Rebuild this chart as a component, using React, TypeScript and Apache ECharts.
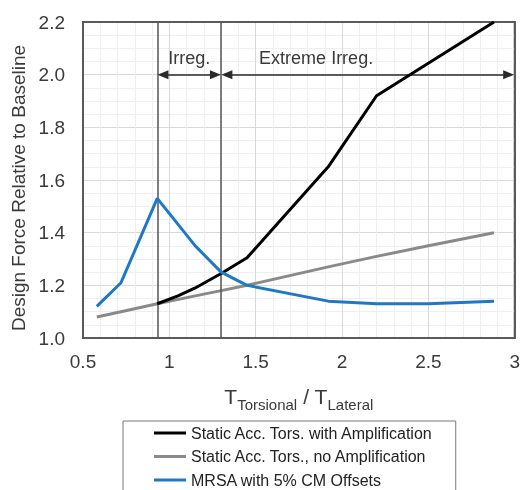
import React, { useEffect, useRef } from "react";
import * as echarts from "echarts";

const xTicks = { min: 0.5, max: 3, interval: 0.5 };
const yTicks = { min: 1.0, max: 2.2, interval: 0.2 };

const ampX = [0.93, 1.05, 1.15, 1.3, 1.45, 1.92, 2.2, 2.88];
const ampY = [1.13, 1.16, 1.19, 1.245, 1.305, 1.65, 1.92, 2.2];

const noAmpX = [0.58, 0.72, 0.93, 1.15, 1.3, 1.45, 1.92, 2.2, 2.5, 2.88];
const noAmpY = [1.08, 1.1, 1.13, 1.16, 1.18, 1.2, 1.27, 1.31, 1.35, 1.4];

const mrsaX = [0.58, 0.72, 0.93, 1.15, 1.3, 1.45, 1.92, 2.2, 2.5, 2.88];
const mrsaY = [1.12, 1.21, 1.53, 1.35, 1.25, 1.2, 1.14, 1.13, 1.13, 1.14];

const seriesNames = [
  "Static Acc. Tors. with Amplification",
  "Static Acc. Tors., no Amplification",
  "MRSA with 5% CM Offsets",
];

const limitX = [0.93, 1.3];
const arrowY = 2.0;
const irregSpan = [0.963, 1.267];
const extremeSpan = [1.333, 2.965];
const annotations = [
  { text: "Irreg.", x: 1.115, y: 2.063 },
  { text: "Extreme Irreg.", x: 1.85, y: 2.063 },
];

const zip = (xs: number[], ys: number[]) => xs.map((x, i) => [x, ys[i]]);

export default function App() {
  const ref = useRef<HTMLDivElement>(null);
  useEffect(() => {
    if (!ref.current) return;
    const chart = echarts.init(ref.current, null, { renderer: "svg" });
    const font = "Liberation Sans, Arial, sans-serif";
    const textColor = "#3a3a3a";
    const borderLine = { show: true, lineStyle: { color: "#5a5a5a", width: 2 } };
    chart.setOption({
      animation: false,
      textStyle: { fontFamily: font },
      grid: {
        left: 83,
        right: 5,
        top: 22,
        bottom: 152,
        show: true,
        borderColor: "#5a5a5a",
        borderWidth: 2,
        backgroundColor: "#fff",
      },
      legend: {
        data: seriesNames,
        orient: "vertical",
        left: 123,
        top: 421,
        height: 80,
        itemWidth: 32,
        itemHeight: 14,
        itemGap: 7.5,
        padding: [4, 22, 8, 31],
        borderColor: "#777",
        borderWidth: 1,
        icon: "path://M0,0L32,0L32,3L0,3Z",
        textStyle: { fontSize: 16, color: "#222", fontFamily: font },
      },
      xAxis: [
        {
          type: "value",
          min: xTicks.min,
          max: xTicks.max,
          interval: xTicks.interval,
          axisLine: borderLine,
          axisTick: { show: false },
          axisLabel: { fontSize: 19, color: textColor, margin: 14 },
          splitLine: { show: true, lineStyle: { color: "#d9d9d9", width: 1 } },
          minorTick: { show: false, splitNumber: 5 },
          minorSplitLine: { show: true, lineStyle: { color: "#efefef", width: 1 } },
          name: "{t|T}{s|Torsional}{t| / T}{s|Lateral}",
          nameLocation: "middle",
          nameGap: 45,
          nameTextStyle: {
            rich: {
              t: { fontSize: 21, color: textColor, fontFamily: font, verticalAlign: "bottom", lineHeight: 24 },
              s: { fontSize: 15, color: textColor, fontFamily: font, verticalAlign: "bottom", lineHeight: 24, padding: [0, 0, -5, 0] },
            },
          },
        },
        {
          type: "value",
          position: "top",
          min: xTicks.min,
          max: xTicks.max,
          interval: xTicks.interval,
          axisLine: borderLine,
          axisTick: { show: false },
          axisLabel: { show: false },
          splitLine: { show: false },
        },
      ],
      yAxis: [
        {
          type: "value",
          min: yTicks.min,
          max: yTicks.max,
          interval: yTicks.interval,
          axisLine: borderLine,
          axisTick: { show: false },
          axisLabel: {
            fontSize: 19,
            color: textColor,
            margin: 18,
            formatter: (v: number) => v.toFixed(1),
          },
          splitLine: { show: true, lineStyle: { color: "#d9d9d9", width: 1 } },
          minorTick: { show: false, splitNumber: 4 },
          minorSplitLine: { show: true, lineStyle: { color: "#efefef", width: 1 } },
          name: "Design Force Relative to Baseline",
          nameLocation: "middle",
          nameGap: 55,
          nameTextStyle: { fontSize: 19, color: textColor, padding: [0, 16, 0, 0] },
        },
        {
          type: "value",
          position: "right",
          min: yTicks.min,
          max: yTicks.max,
          interval: yTicks.interval,
          axisLine: borderLine,
          axisTick: { show: false },
          axisLabel: { show: false },
          splitLine: { show: false },
        },
      ],
      series: [
        {
          name: seriesNames[0],
          type: "line",
          data: zip(ampX, ampY),
          symbol: "none",
          lineStyle: { color: "#000", width: 3 },
          itemStyle: { color: "#000" },
          silent: true,
          z: 5,
          markLine: {
            silent: true,
            symbol: ["none", "none"],
            label: { show: false },
            lineStyle: { color: "#555", width: 1.5, type: "solid" },
            data: limitX.map((x) => ({ xAxis: x })),
          },
          markPoint: {
            silent: true,
            symbol: "rect",
            symbolSize: 1,
            itemStyle: { color: "rgba(0,0,0,0)" },
            label: {
              show: true,
              position: "inside",
              fontSize: 18,
              color: textColor,
              fontFamily: font,
              formatter: (p: any) => p.name,
            },
            data: annotations.map((a) => ({ name: a.text, coord: [a.x, a.y] })),
          },
        },
        {
          name: seriesNames[1],
          type: "line",
          data: zip(noAmpX, noAmpY),
          symbol: "none",
          lineStyle: { color: "#8a8a8a", width: 3 },
          itemStyle: { color: "#8a8a8a" },
          silent: true,
          z: 4,
          markLine: {
            silent: true,
            symbol: ["triangle", "triangle"],
            symbolSize: [9, 11],
            label: { show: false },
            lineStyle: { color: "#2a2a2a", width: 1.5, type: "solid" },
            itemStyle: { color: "#111" },
            data: [
              [
                { coord: [irregSpan[0], arrowY] },
                { coord: [irregSpan[1], arrowY] },
              ],
              [
                { coord: [extremeSpan[0], arrowY] },
                { coord: [extremeSpan[1], arrowY] },
              ],
            ],
          },
        },
        {
          name: seriesNames[2],
          type: "line",
          data: zip(mrsaX, mrsaY),
          symbol: "none",
          lineStyle: { color: "#1f78c4", width: 3 },
          itemStyle: { color: "#1f78c4" },
          silent: true,
          z: 6,
        },
      ],
    });
    return () => chart.dispose();
  }, []);
  return (
    <div
      ref={ref}
      style={{ position: "fixed", left: 0, top: 0, width: 523, height: 490 }}
    />
  );
}
